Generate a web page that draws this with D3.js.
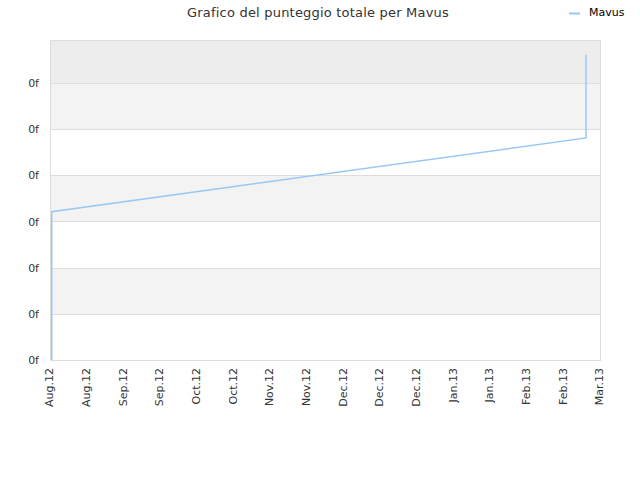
<!DOCTYPE html>
<html>
<head>
<meta charset="utf-8">
<script src="https://cdn.jsdelivr.net/npm/d3@7"></script>
<style>
  body { margin: 0; background: #fff; }
  text { font-family: "DejaVu Sans", sans-serif; }
</style>
</head>
<body>
<div id="chart"></div>
<script>
var width = 640, height = 480;
var margin = {top: 40, right: 40, bottom: 120, left: 50};

var title = 'Grafico del punteggio totale per Mavus';
var seriesName = 'Mavus';

// score over time (dates as yyyy-mm-dd hh)
var dates = ['2012-08-12 16', '2012-08-12 16', '2013-03-04 16', '2013-03-04 16'];
var scores = [0, 3.21, 4.81, 6.61];

var xDomain = ['2012-08-12 00', '2013-03-10 00'];
var xTickLabels = ['Aug.12', 'Aug.12', 'Sep.12', 'Sep.12', 'Oct.12', 'Oct.12', 'Nov.12', 'Nov.12',
  'Dec.12', 'Dec.12', 'Dec.12', 'Jan.13', 'Jan.13', 'Feb.13', 'Feb.13', 'Mar.13'];
var yTicks = [0, 1, 2, 3, 4, 5, 6];
var yMax = 6.93;

var parse = d3.timeParse('%Y-%m-%d %H');
var data = dates.map(function(d, i) { return {date: parse(d), v: scores[i]}; });

var svg = d3.select('#chart').append('svg')
  .attr('width', width)
  .attr('height', height);

var iw = width - margin.left - margin.right;
var ih = height - margin.top - margin.bottom;

var x = d3.scaleTime()
  .domain(xDomain.map(parse))
  .range([0, iw]);
var y = d3.scaleLinear()
  .domain([0, yMax])
  .range([ih, 0]);

var g = svg.append('g').attr('transform', 'translate(' + margin.left + ',' + margin.top + ')');

// alternating bands
var bandTops = yTicks.concat([yMax]);
g.selectAll('rect.band')
  .data(d3.range(yTicks.length))
  .enter().append('rect')
  .attr('class', 'band')
  .attr('x', 0)
  .attr('width', iw)
  .attr('y', function(i) { return y(bandTops[i + 1]); })
  .attr('height', function(i) { return y(bandTops[i]) - y(bandTops[i + 1]); })
  .attr('fill', function(i) {
    if (i === yTicks.length - 1) return '#ededed';
    return i % 2 === 1 ? '#f3f3f3' : '#ffffff';
  });

// grid lines
g.selectAll('line.grid')
  .data(yTicks)
  .enter().append('line')
  .attr('x1', 0).attr('x2', iw)
  .attr('y1', function(d) { return Math.round(y(d)) + 0.5; })
  .attr('y2', function(d) { return Math.round(y(d)) + 0.5; })
  .attr('stroke', '#dddddd');

g.append('rect')
  .attr('x', 0.5).attr('y', 0.5)
  .attr('width', iw).attr('height', ih)
  .attr('fill', 'none')
  .attr('stroke', '#dddddd');

// y axis
var yAxis = d3.axisLeft(y).tickValues(yTicks).tickSize(0).tickPadding(11)
  .tickFormat(function() { return '0f'; });
var ya = g.append('g').call(yAxis);
ya.select('.domain').remove();
ya.selectAll('text').attr('fill', '#333').style('font-size', '11px');

// x axis
var step = (x.domain()[1] - x.domain()[0]) / (xTickLabels.length - 1);
var xTickDates = xTickLabels.map(function(l, i) { return new Date(+x.domain()[0] + step * i); });
var xAxis = d3.axisBottom(x).tickValues(xTickDates).tickSize(0)
  .tickFormat(function(d, i) { return xTickLabels[i]; });
var xa = g.append('g').attr('transform', 'translate(-1,' + ih + ')').call(xAxis);
xa.select('.domain').remove();
xa.selectAll('text')
  .attr('fill', '#333')
  .style('font-size', '11px')
  .attr('transform', 'rotate(-90)')
  .attr('text-anchor', 'end')
  .attr('x', -8)
  .attr('y', 0)
  .attr('dy', '0.35em');

// line
var line = d3.line()
  .x(function(d) { return x(d.date); })
  .y(function(d) { return y(d.v); });
g.append('path')
  .datum(data)
  .attr('d', line)
  .attr('fill', 'none')
  .attr('stroke', '#99c8f5')
  .attr('stroke-width', 1.5);

// title
svg.append('text')
  .attr('x', 318).attr('y', 17)
  .attr('text-anchor', 'middle')
  .attr('fill', '#333')
  .style('font-size', '13px')
  .style('letter-spacing', '0.2px')
  .text(title);

// legend
svg.append('line')
  .attr('x1', 569).attr('x2', 580)
  .attr('y1', 13.5).attr('y2', 13.5)
  .attr('stroke', '#99c8f5')
  .attr('stroke-width', 2);
svg.append('text')
  .attr('x', 589).attr('y', 16)
  .attr('fill', '#000')
  .style('font-size', '11px')
  .text(seriesName);
</script>
</body>
</html>
